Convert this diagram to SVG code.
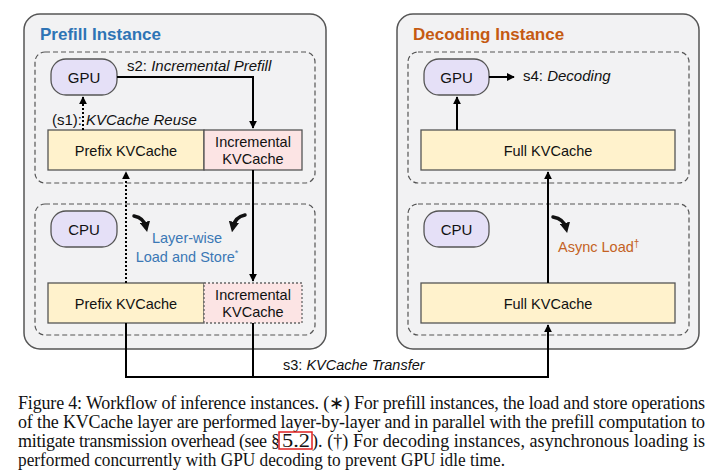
<svg xmlns="http://www.w3.org/2000/svg" width="720" height="476" viewBox="0 0 720 476">
<defs>
<marker id="ah" viewBox="0 0 10 10" refX="9" refY="5" markerWidth="4" markerHeight="4" orient="auto" markerUnits="strokeWidth">
<path d="M0,0 L10,5 L0,10 z" fill="#000"/>
</marker>
<marker id="ahc" viewBox="0 0 10 10" refX="5" refY="5" markerWidth="3" markerHeight="3" orient="auto" markerUnits="strokeWidth">
<path d="M0,0 L10,5 L0,10 z" fill="#111"/>
</marker>
</defs>
<style>
.outer{fill:#f2f2f3;stroke:#555;stroke-width:1.5}
.dash{fill:none;stroke:#555;stroke-width:1.2;stroke-dasharray:5,3}
.pu{fill:#e5e0f7;stroke:#555;stroke-width:1.3}
.ye{fill:#fff2cc;stroke:#555;stroke-width:1.3}
.pk{fill:#fce4e4;stroke:#555;stroke-width:1.3}
.t{font-family:"Liberation Sans",Arial,sans-serif;fill:#111}
.c{text-anchor:middle}
.ln{fill:none;stroke:#000;stroke-width:2}
.dot{fill:none;stroke:#000;stroke-width:2;stroke-dasharray:2,2}
.cur{fill:none;stroke:#111;stroke-width:3.5;stroke-linecap:round}
.cap{font-family:"Liberation Serif","Times New Roman",serif;font-size:18px;fill:#111}
</style>
<rect width="720" height="476" fill="#fff"/>

<g id="prefill-instance">
<rect class="outer" x="24" y="14" width="302" height="335" rx="16"/>
<text class="t" x="40" y="40" font-size="17" font-weight="bold" style="fill:#2e74b5">Prefill Instance</text>
<rect class="dash" x="35" y="52" width="280" height="131" rx="10"/>
<rect class="dash" x="35" y="204" width="280" height="131" rx="10"/>
</g>
<g id="decoding-instance">
<rect class="outer" x="397" y="14" width="302" height="335" rx="16"/>
<text class="t" x="413" y="40" font-size="17" font-weight="bold" style="fill:#c55a11">Decoding Instance</text>
<rect class="dash" x="408" y="52" width="281" height="131" rx="10"/>
<rect class="dash" x="408" y="204" width="281" height="131" rx="10"/>
</g>

<g id="p-gpu">
<rect class="pu" x="51" y="59" width="66" height="36" rx="15"/>
<text class="t c" x="84" y="83" font-size="15">GPU</text>
</g>
<g id="p-prefix-up">
<rect class="ye" x="48" y="130" width="156" height="40"/>
<text class="t c" x="126" y="156" font-size="14.5">Prefix KVCache</text>
</g>
<g id="p-inc-up">
<rect class="pk" x="204" y="130" width="98" height="40"/>
<text class="t c" x="253" y="147" font-size="14.5">Incremental</text>
<text class="t c" x="253" y="164" font-size="14.5">KVCache</text>
</g>
<g id="p-cpu">
<rect class="pu" x="51" y="211" width="66" height="36" rx="15"/>
<text class="t c" x="84" y="235" font-size="15">CPU</text>
</g>
<g id="p-prefix-low">
<rect class="ye" x="48" y="283" width="156" height="40"/>
<text class="t c" x="126" y="309" font-size="14.5">Prefix KVCache</text>
</g>
<g id="p-inc-low">
<rect x="204" y="283" width="98" height="40" fill="#fce4e4" stroke="#666" stroke-width="1.3" stroke-dasharray="2,2"/>
<text class="t c" x="253" y="300" font-size="14.5">Incremental</text>
<text class="t c" x="253" y="317" font-size="14.5">KVCache</text>
</g>

<g id="d-gpu">
<rect class="pu" x="424" y="59" width="65" height="36" rx="15"/>
<text class="t c" x="456.5" y="83" font-size="15">GPU</text>
</g>
<g id="d-full-up">
<rect class="ye" x="421" y="130" width="254" height="40"/>
<text class="t c" x="548" y="156" font-size="14.5">Full KVCache</text>
</g>
<g id="d-cpu">
<rect class="pu" x="424" y="211" width="65" height="36" rx="15"/>
<text class="t c" x="456.5" y="235" font-size="15">CPU</text>
</g>
<g id="d-full-low">
<rect class="ye" x="421" y="283" width="254" height="40"/>
<text class="t c" x="548" y="309" font-size="14.5">Full KVCache</text>
</g>

<g id="connectors">
<path class="ln" d="M117,77 H253 V128" marker-end="url(#ah)"/>
<path class="dot" d="M83,130 V97" marker-end="url(#ah)"/>
<path class="dot" d="M126,283 V172" marker-end="url(#ah)"/>
<path class="ln" d="M253,170 V281" marker-end="url(#ah)"/>
<path class="ln" d="M126,323 V377 H548 V325" marker-end="url(#ah)"/>
<path class="ln" d="M253,323 V377"/>
<path class="ln" d="M457,130 V97" marker-end="url(#ah)"/>
<path class="ln" d="M489,77 H514" marker-end="url(#ah)"/>
<path class="ln" d="M548,283 V172" marker-end="url(#ah)"/>
<path class="cur" d="M134,216 Q144,218 146,227" marker-end="url(#ahc)"/>
<path class="cur" d="M245,215 Q235,217 233,227" marker-end="url(#ahc)"/>
<path class="cur" d="M553,217 Q564,219 566,228" marker-end="url(#ahc)"/>
</g>

<g id="labels">
<text class="t" x="127" y="71" font-size="15">s2: <tspan font-style="italic">Incremental Prefill</tspan></text>
<text class="t" x="52" y="125" font-size="15">(s1):<tspan font-style="italic" dx="4">KVCache Reuse</tspan></text>
<text class="t" x="523" y="81" font-size="15">s4: <tspan font-style="italic">Decoding</tspan></text>
<text class="t" x="283" y="370" font-size="14.5">s3: <tspan font-style="italic">KVCache Transfer</tspan></text>
<text class="t c" x="187" y="243" font-size="14.5" style="fill:#3b78b5">Layer-wise</text>
<text class="t c" x="187" y="262" font-size="14.5" style="fill:#3b78b5">Load and Store<tspan font-size="9" dy="-6">*</tspan></text>
<text class="t" x="558" y="252" font-size="14.5" style="fill:#c46224">Async Load<tspan font-size="10" dy="-5">†</tspan></text>
</g>

<g id="caption">
<text class="cap" x="18" y="409" textLength="687" lengthAdjust="spacing">Figure 4: Workflow of inference instances. (∗) For prefill instances, the load and store operations</text>
<text class="cap" x="18" y="428" textLength="687" lengthAdjust="spacing">of the KVCache layer are performed layer-by-layer and in parallel with the prefill computation to</text>
<text class="cap" x="18" y="447" textLength="262" lengthAdjust="spacing">mitigate transmission overhead (see §</text>
<text class="cap" x="282" y="447" textLength="28" lengthAdjust="spacingAndGlyphs">5.2</text>
<text class="cap" x="312" y="447" textLength="393" lengthAdjust="spacing">). (†) For decoding instances, asynchronous loading is</text>
<text class="cap" x="18" y="466" textLength="487" lengthAdjust="spacingAndGlyphs">performed concurrently with GPU decoding to prevent GPU idle time.</text>
<rect x="279" y="432" width="33" height="17" fill="none" stroke="#e02020" stroke-width="1.5"/>
</g>
</svg>
